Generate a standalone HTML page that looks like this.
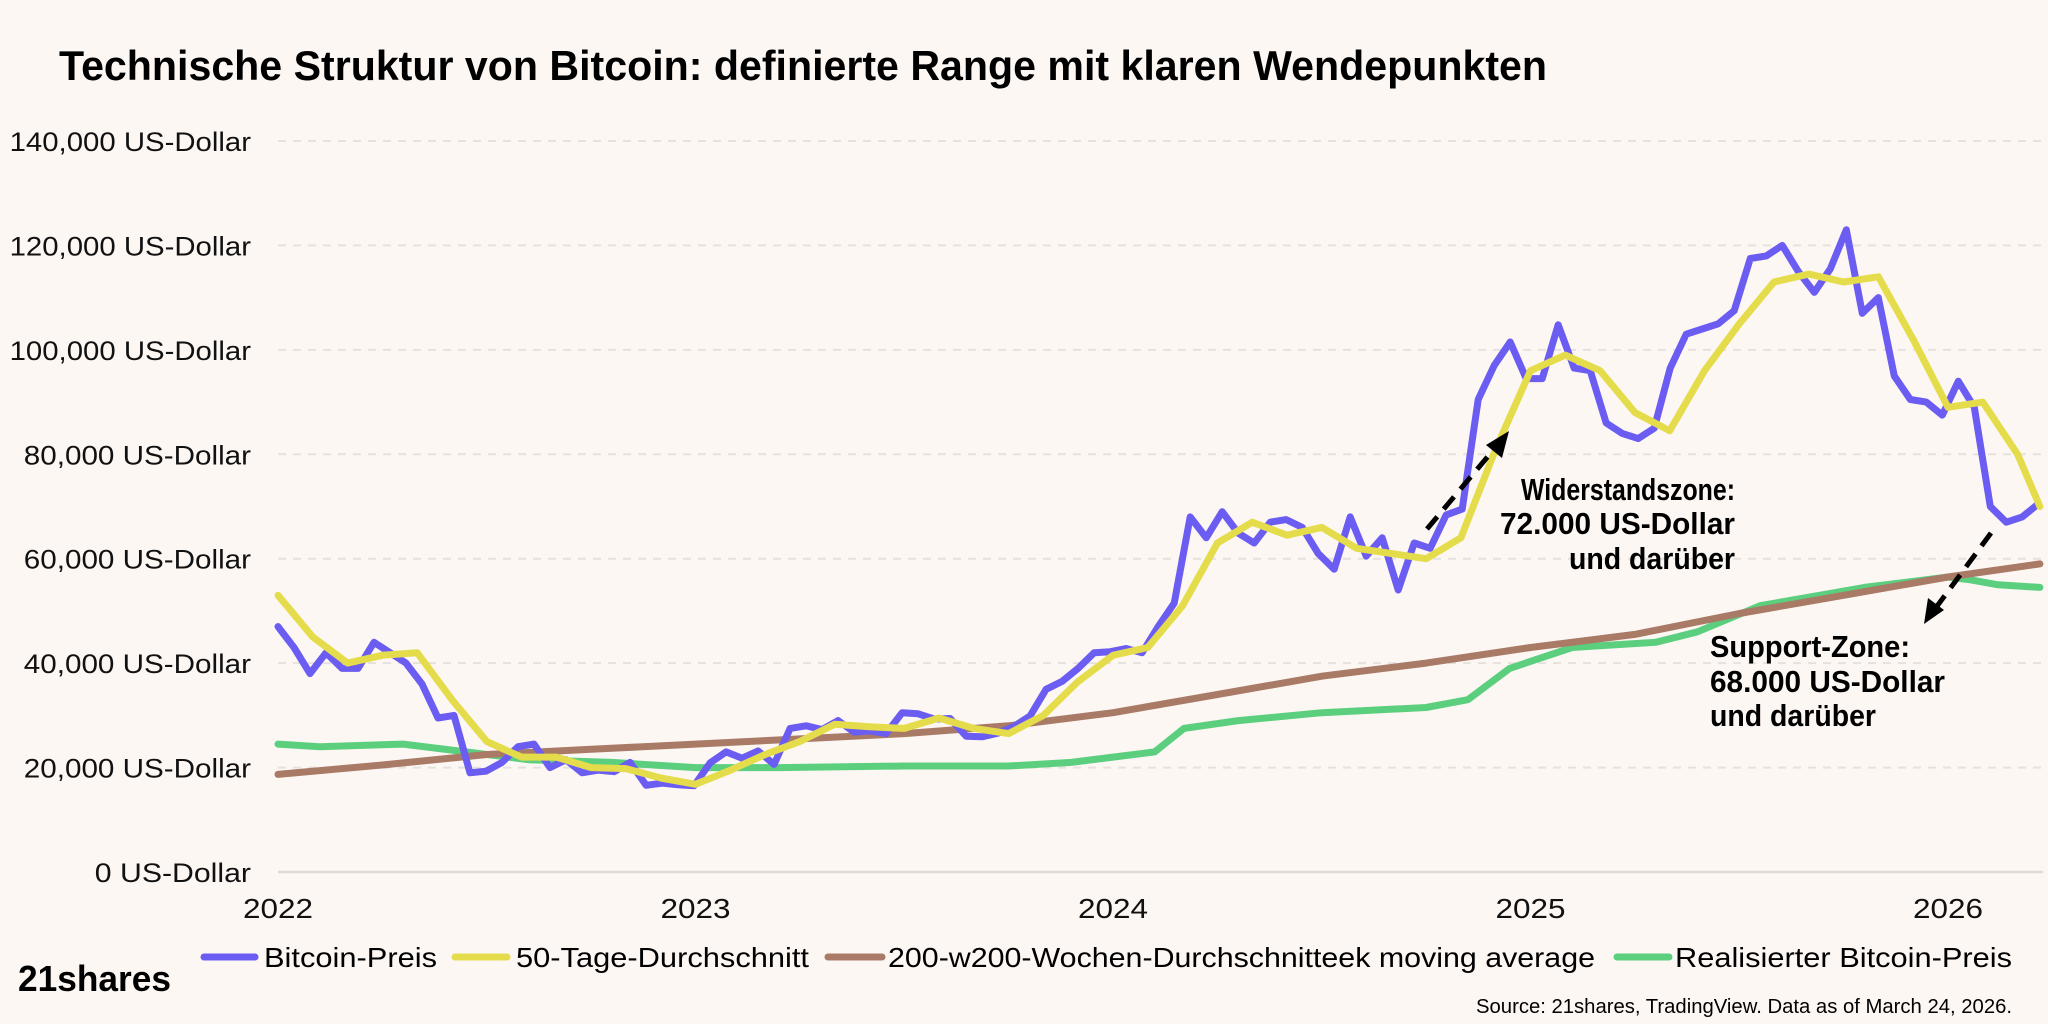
<!DOCTYPE html>
<html><head><meta charset="utf-8">
<style>
html,body{margin:0;padding:0;background:#fdf7f4;}
svg{display:block;}
text{font-family:"Liberation Sans",sans-serif;}
</style></head>
<body>
<svg id="chart" width="2048" height="1024" viewBox="0 0 2048 1024">
<rect x="0" y="0" width="2048" height="1024" fill="#fdf7f4"/>
<text x="59" y="80" font-size="42" font-weight="bold" fill="#000" textLength="1488" lengthAdjust="spacingAndGlyphs">Technische Struktur von Bitcoin: definierte Range mit klaren Wendepunkten</text>
<g id="grid"></g>
<g id="yaxis"></g>
<g id="xaxis"></g>
<g id="series"></g>
<g>
<line x1="1427" y1="529" x2="1500" y2="442" stroke="#000" stroke-width="5" stroke-dasharray="16,10"/>
<polygon points="1509,431 1502,458 1486,445" fill="#000"/>
<text x="1735" y="500" font-size="31" font-weight="bold" text-anchor="end" textLength="214" lengthAdjust="spacingAndGlyphs">Widerstandszone:</text>
<text x="1735" y="534" font-size="31" font-weight="bold" text-anchor="end" textLength="235" lengthAdjust="spacingAndGlyphs">72.000 US-Dollar</text>
<text x="1735" y="569" font-size="31" font-weight="bold" text-anchor="end" textLength="166" lengthAdjust="spacingAndGlyphs">und darüber</text>
</g>
<g>
<line x1="1991" y1="533" x2="1932" y2="613" stroke="#000" stroke-width="5" stroke-dasharray="16,10"/>
<polygon points="1924,624 1928,598 1944,610" fill="#000"/>
<text x="1710" y="657" font-size="31" font-weight="bold" textLength="200" lengthAdjust="spacingAndGlyphs">Support-Zone:</text>
<text x="1710" y="692" font-size="31" font-weight="bold" textLength="235" lengthAdjust="spacingAndGlyphs">68.000 US-Dollar</text>
<text x="1710" y="726" font-size="31" font-weight="bold" textLength="166" lengthAdjust="spacingAndGlyphs">und darüber</text>
</g>
<g>
<g><line x1="204" y1="957" x2="255" y2="957" stroke="#6b5cf2" stroke-width="7" stroke-linecap="round"/><text x="264" y="967" font-size="28" textLength="173" lengthAdjust="spacingAndGlyphs">Bitcoin-Preis</text></g>
<g><line x1="455" y1="957" x2="507" y2="957" stroke="#e5dc4c" stroke-width="7" stroke-linecap="round"/><text x="516" y="967" font-size="28" textLength="293" lengthAdjust="spacingAndGlyphs">50-Tage-Durchschnitt</text></g>
<g><line x1="828" y1="957" x2="882" y2="957" stroke="#a97b67" stroke-width="7" stroke-linecap="round"/><text x="888" y="967" font-size="28" textLength="707" lengthAdjust="spacingAndGlyphs">200-w200-Wochen-Durchschnitteek moving average</text></g>
<g><line x1="1617" y1="957" x2="1669" y2="957" stroke="#5ccf7f" stroke-width="7" stroke-linecap="round"/><text x="1675" y="967" font-size="28" textLength="337" lengthAdjust="spacingAndGlyphs">Realisierter Bitcoin-Preis</text></g>
</g>
<text x="18" y="991" font-size="36" font-weight="bold" textLength="153" lengthAdjust="spacingAndGlyphs">21shares</text>
<text x="2012" y="1013" font-size="20" text-anchor="end" textLength="536" lengthAdjust="spacingAndGlyphs">Source: 21shares, TradingView. Data as of March 24, 2026.</text>
</svg>
<script>
const yTicks = [0,20000,40000,60000,80000,100000,120000,140000];
const yTickLabels = ["0 US-Dollar","20,000 US-Dollar","40,000 US-Dollar","60,000 US-Dollar","80,000 US-Dollar","100,000 US-Dollar","120,000 US-Dollar","140,000 US-Dollar"];
const xTicks = [2022,2023,2024,2025,2026];
const xTickLabels = ["2022","2023","2024","2025","2026"];
const btcPrice = [47,43,38,42,39,39,44,42,40,36,29.5,30,19,19.3,21,24,24.5,20,21.5,19,19.5,19.2,21,16.6,17,16.7,16.5,
 20.9,23,21.8,23.2,20.6,27.5,28,27.3,29,26.8,27,26.5,30.5,30.3,29.3,29.4,26,25.9,26.6,27.9,29.9,35,36.5,39,42,42.2,
 42.8,42,47,51.5,68,64,69,64.9,63,67,67.5,66,61,58,68,60.5,64,54,63,62,68.4,69.5,90.5,97,101.5,94.5,
 94.5,104.8,96.5,96,86,84,83,85,96.5,103,104,105,107.5,117.5,118,120,115,111,115.5,123,107,110,95,90.5,90,87.5,
 94,89,70,67,68,70.5];
const ma50 = [53,45,40,41.5,42,33,25,22,22,20,19.8,18,16.8,19.5,22.5,25,28.3,27.8,27.5,29.5,27.5,26.5,30,36.5,41.5,43,51,63,67,64.5,66,62,61,60,64,81,96,99,96,88,84.5,96,105,113,114.5,113,114,102,89,90,80];
const ma50End = 70;
const ma200wT = [2022,2022.25,2022.5,2022.75,2023,2023.25,2023.5,2023.75,2024,2024.25,2024.5,2024.75,2025,2025.25,2025.5,2025.75,2026,2026.22];
const ma200w = [18.7,20.5,22.5,23.5,24.5,25.5,26.5,28,30.5,34,37.5,40,43,45.5,49.5,53,56.5,59];
const realizedT = [2022,2022.1,2022.3,2022.45,2022.6,2022.8,2023,2023.2,2023.5,2023.75,2023.9,2024,2024.1,2024.17,2024.3,2024.5,2024.75,2024.85,2024.95,2025.1,2025.3,2025.4,2025.55,2025.8,2026,2026.05,2026.12,2026.22];
const realized = [24.5,24,24.5,23,21.5,21,20,20,20.3,20.3,21,22,23,27.5,29,30.5,31.5,33,39,43,44,46,51,54.5,56.5,56,55,54.5];

const X0=278, YEARW=417.5, Y0=872, YSPAN=731, YMAX=140000;
function xs(t){return X0+(t-2022)*YEARW;}
function ys(v){return Y0-v/YMAX*YSPAN;}
const NS="http://www.w3.org/2000/svg";
function mk(tag,attrs,parent){const e=document.createElementNS(NS,tag);for(const k in attrs)e.setAttribute(k,attrs[k]);parent.appendChild(e);return e;}
const grid=document.getElementById('grid'), yax=document.getElementById('yaxis'), xax=document.getElementById('xaxis'), ser=document.getElementById('series');
yTicks.forEach((v,i)=>{
  const l=mk('line',{x1:X0,x2:2043,y1:ys(v),y2:ys(v),stroke:v===0?'#dedad6':'#e6e1dd','stroke-width':v===0?2.5:2,'stroke-dasharray':v===0?'none':'8,7'},grid);
  
  
  const t=mk('text',{x:251,y:ys(v)+10,'font-size':27,'text-anchor':'end',fill:'#111',textLength:yTickLabels[i].length*14.2,lengthAdjust:'spacingAndGlyphs'},yax);
  t.textContent=yTickLabels[i];
  
  
});
xTicks.forEach((v,i)=>{
  const t=mk('text',{x:xs(v),y:918,'font-size':28,'text-anchor':'middle',fill:'#111',textLength:70,lengthAdjust:'spacingAndGlyphs'},xax);
  t.textContent=xTickLabels[i];
  
  
});
function path(ts,vs,color,name,w){
  const d=ts.map((t,i)=>(i?'L':'M')+xs(t).toFixed(1)+','+ys(vs[i]*1000).toFixed(1)).join(' ');
  const p=mk('path',{d:d,fill:'none',stroke:color,'stroke-width':w,'stroke-linejoin':'round','stroke-linecap':'round'},ser);
  
  
}
path(realizedT,realized,'#5ccf7f','realized-price-line',7);
path(ma200wT,ma200w,'#a97b67','ma200w-line',7);
const btcT=btcPrice.map((_,i)=>2022+i*14/365.25);
path(btcT,btcPrice,'#6b5cf2','bitcoin-price-line',7);
const ma50T=ma50.map((_,i)=>2022+i/12).concat([2026.22]);
path(ma50T,ma50.concat([ma50End]),'#e5dc4c','ma50-line',7);
</script>
</body></html>
